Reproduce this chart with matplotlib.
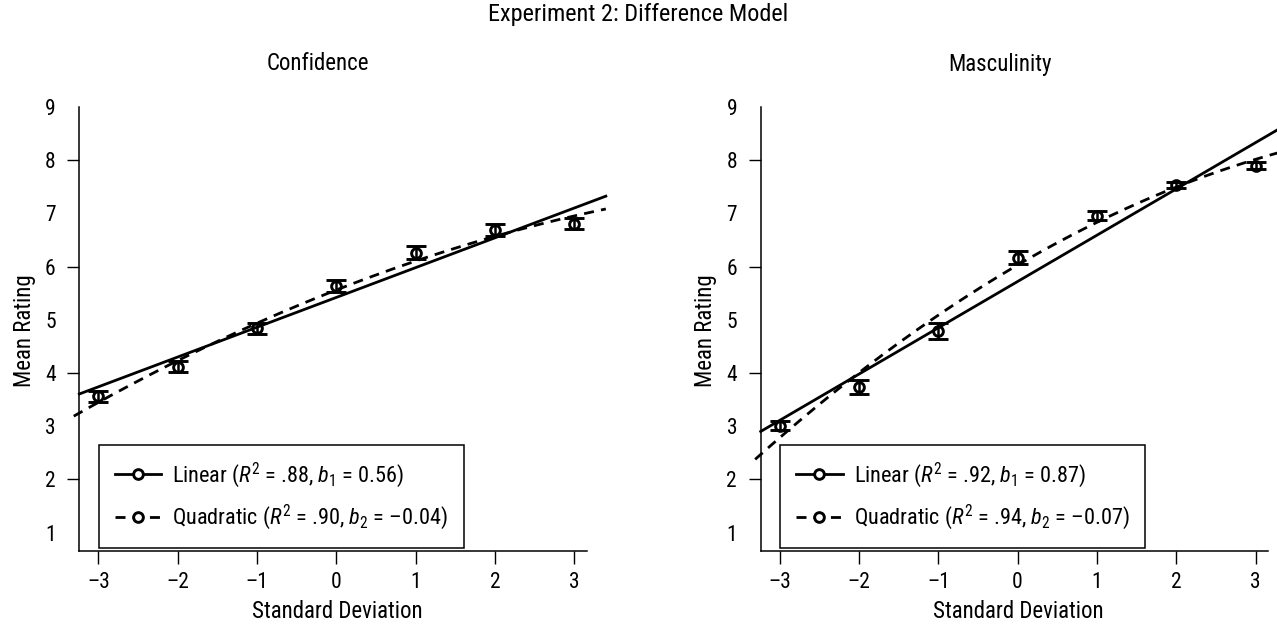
import numpy as np
import matplotlib
matplotlib.use("Agg")
from matplotlib import pyplot as plt
from matplotlib import font_manager
from matplotlib.lines import Line2D

# Pick a narrow sans if one is around, otherwise plain Liberation Sans
installed = set(f.name for f in font_manager.fontManager.ttflist)
FONT = 'Liberation Sans'
for name in ['Liberation Sans Narrow', 'Arial Narrow', 'Roboto Condensed',
             'Open Sans Condensed', 'Nimbus Sans Narrow', 'Liberation Sans']:
    if name in installed:
        FONT = name
        break

plt.rcParams['font.family'] = [FONT, 'DejaVu Sans']
plt.rcParams['mathtext.fontset'] = 'custom'
plt.rcParams['mathtext.rm'] = FONT
plt.rcParams['mathtext.it'] = FONT + ':italic'

# Data
sd_levels = [-3, -2, -1, 0, 1, 2, 3]
x_labels = ["\u20133", "\u20132", "\u20131", "0", "1", "2", "3"]
y_labels = ["1", "2", "3", "4", "5", "6", "7", "8", "9"]

conf_mean = [3.56, 4.12, 4.84, 5.64, 6.26, 6.69, 6.81]
conf_err = [0.11, 0.11, 0.10, 0.11, 0.12, 0.11, 0.11]
masc_mean = [3.01, 3.73, 4.79, 6.17, 6.96, 7.53, 7.90]
masc_err = [0.08, 0.13, 0.15, 0.13, 0.09, 0.06, 0.06]

# Fit coefficients: linear (a, b1) and quadratic (a, b, b2)
conf_lin = [5.42, 0.56]
conf_quad = [5.56, 0.584, -0.04]
masc_lin = [5.72, 0.87]
masc_quad = [6.03, 0.872, -0.07]

conf_r2 = [".88", ".90"]
masc_r2 = [".92", ".94"]

W, H = 1277, 624
fig = plt.figure(figsize=(W / 100, H / 100), dpi=100)

ax_w = 507.5 / W
ax_h = 443.7 / H
ax_b = (H - 550.7) / H
ax1 = fig.add_axes([79.3 / W, ax_b, ax_w, ax_h])
ax2 = fig.add_axes([760.7 / W, ax_b, ax_w, ax_h])

DASH = (0, (3.6, 2.6))
FS = 16.5
LEG_FS = 16


def fmt_coef(v):
    s = "%.2f" % v
    return s.replace("-", "\u2013")


def draw_panel(ax, means, errs, lin, quad, r2):
    # Fit lines (allowed to run past the axes)
    u = np.linspace(-3.24, 3.40, 200)
    ax.plot(u, lin[0] + lin[1] * u, color='black', lw=2.0,
            clip_on=False, zorder=3)
    uq = np.linspace(-3.31, 3.40, 200)
    ax.plot(uq, quad[0] + quad[1] * uq + quad[2] * uq ** 2, color='black',
            lw=2.0, ls=DASH, clip_on=False, zorder=3)

    # Means with error bars
    ax.errorbar(sd_levels, means, yerr=errs, fmt='o', color='black',
                mfc='none', mec='black', ms=7, mew=2.1, elinewidth=1.8,
                capsize=7, capthick=2.3, zorder=4)

    # Axes styling
    ax.set_xlim(-3.24, 3.16)
    ax.set_ylim(0.66, 9)
    ax.spines['top'].set_visible(False)
    ax.spines['right'].set_visible(False)
    ax.spines['left'].set_linewidth(1.1)
    ax.spines['bottom'].set_linewidth(1.1)

    ax.set_xticks(sd_levels)
    ax.set_xticklabels(x_labels)
    ax.set_yticks(range(1, 10))
    ax.set_yticklabels(y_labels)
    ax.tick_params(axis='both', length=9, width=1.0, labelsize=15.5)
    ax.tick_params(axis='x', pad=6)
    ax.tick_params(axis='y', pad=8)
    # only even ratings get a tick mark
    for val, tick in zip(range(1, 10), ax.yaxis.get_major_ticks()):
        if val % 2 == 1:
            tick.tick1line.set_visible(False)

    ax.set_xlabel("Standard Deviation", fontsize=FS)
    ax.xaxis.set_label_coords(0.508, -0.111)
    ax.set_ylabel("Mean Rating", fontsize=FS)
    ax.yaxis.set_label_coords(-0.086, 0.497)

    # Legend
    h_lin = Line2D([], [], color='black', lw=2.0, marker='o', mfc='white',
                   mec='black', ms=7, mew=2.1)
    h_quad = Line2D([], [], color='black', lw=2.0, ls=DASH, marker='o',
                    mfc='white', mec='black', ms=7, mew=2.1)
    lab_lin = r"Linear ($R^2$ = %s, $b_1$ = %s)" % (r2[0], fmt_coef(lin[1]))
    lab_quad = r"Quadratic ($R^2$ = %s, $b_2$ = %s)" % (r2[1], fmt_coef(quad[2]))
    leg = ax.legend([h_lin, h_quad], [lab_lin, lab_quad], loc='lower left',
                    bbox_to_anchor=(0.039, 0.006), borderaxespad=0,
                    fontsize=LEG_FS, handlelength=2.1, handletextpad=0.5,
                    labelspacing=0.6, borderpad=0.7, fancybox=False,
                    framealpha=1, edgecolor='black')
    leg.get_frame().set_linewidth(1.1)


draw_panel(ax1, conf_mean, conf_err, conf_lin, conf_quad, conf_r2)
draw_panel(ax2, masc_mean, masc_err, masc_lin, masc_quad, masc_r2)

# Titles
fig.text(638 / W, 1 - 15 / H, "Experiment 2: Difference Model",
         ha='center', va='center', fontsize=17.5)
fig.text(318 / W, 1 - 64 / H, "Confidence", ha='center', va='center',
         fontsize=FS)
fig.text(1000 / W, 1 - 64 / H, "Masculinity", ha='center', va='center',
         fontsize=FS)

fig.savefig("out.png", dpi=100)
